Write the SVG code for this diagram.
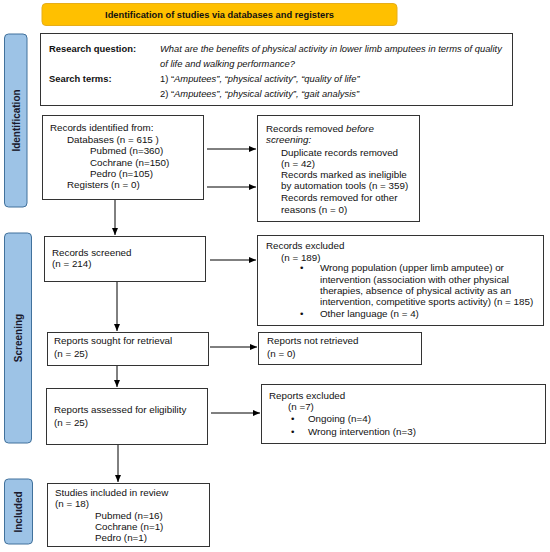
<svg xmlns="http://www.w3.org/2000/svg" width="550" height="552" viewBox="0 0 550 552">
<defs>
<marker id="ah" markerWidth="8" markerHeight="8" refX="7" refY="4" orient="auto" markerUnits="userSpaceOnUse">
<path d="M0,1 L7,4 L0,7 Z" fill="#000"/>
</marker>
<style>
text{font-family:"Liberation Sans",Arial,sans-serif;font-size:9.8px;fill:#111}
.b{font-weight:bold}
.i{font-style:italic}
.r text{font-size:9.4px}
.ban{font-size:9.3px}
.box{fill:#fff;stroke:#333;stroke-width:1}
.side{fill:#9DC3E6;stroke:#41719C;stroke-width:1}
.sl{font-weight:bold;font-size:10px;fill:#1a1a2e}
.c line{stroke:#000;stroke-width:1;marker-end:url(#ah)}
</style>
</defs>
<rect width="550" height="552" fill="#fff"/>
<g id="banner">
<rect x="42" y="3.5" width="355" height="22" rx="4" fill="#FFC000" stroke="#E6AE1A"/>
<text x="219.5" y="18" text-anchor="middle" class="b ban">Identification of studies via databases and registers</text>
</g>
<g id="side-identification">
<rect class="side" x="4.5" y="34" width="22.5" height="173" rx="4"/>
<text class="sl" transform="translate(19.5,120.5) rotate(-90)" text-anchor="middle">Identification</text>
</g>
<g id="side-screening">
<rect class="side" x="4.5" y="233" width="27" height="210" rx="4"/>
<text class="sl" transform="translate(21.5,338) rotate(-90)" text-anchor="middle">Screening</text>
</g>
<g id="side-included">
<rect class="side" x="4.5" y="479" width="28" height="65" rx="4"/>
<text class="sl" transform="translate(22,512) rotate(-90)" text-anchor="middle">Included</text>
</g>
<g id="research" class="r">
<rect class="box" x="40.5" y="33.5" width="472" height="72"/>
<text x="49" y="52" class="b">Research question:</text>
<text x="160" y="52" class="i">What are the benefits of physical activity in lower limb amputees in terms of quality</text>
<text x="160" y="67" class="i">of life and walking performance?</text>
<text x="49" y="82" class="b">Search terms:</text>
<text x="160" y="82">1) “<tspan class="i">Amputees”, “physical activity”, “quality of life”</tspan></text>
<text x="160" y="97">2) “<tspan class="i">Amputees”, “physical activity”, “gait analysis”</tspan></text>
</g>
<g id="identified">
<rect class="box" x="42.5" y="115.5" width="161" height="84"/>
<text x="50" y="131">Records identified from:</text>
<text x="67" y="143">Databases (n = 615 )</text>
<text x="90" y="154">Pubmed (n=360)</text>
<text x="90" y="165.5">Cochrane (n=150)</text>
<text x="90" y="176.5">Pedro (n=105)</text>
<text x="67" y="187.5">Registers (n = 0)</text>
</g>
<g id="removed">
<rect class="box" x="257.5" y="115.5" width="162" height="106"/>
<text x="266" y="132">Records removed <tspan class="i">before</tspan></text>
<text x="266" y="143" class="i">screening:</text>
<text x="281" y="155.5">Duplicate records removed</text>
<text x="281" y="167">(n = 42)</text>
<text x="281" y="178">Records marked as ineligible</text>
<text x="281" y="189">by automation tools (n = 359)</text>
<text x="281" y="200.5">Records removed for other</text>
<text x="281" y="213">reasons (n = 0)</text>
</g>
<g id="screened">
<rect class="box" x="44.5" y="236.5" width="161" height="45"/>
<text x="52" y="256">Records screened</text>
<text x="52" y="267">(n = 214)</text>
</g>
<g id="excluded">
<rect class="box" x="257.5" y="235.5" width="286" height="90"/>
<text x="266" y="249">Records excluded</text>
<text x="281" y="260.5">(n = 189)</text>
<text x="300" y="271">•</text>
<text x="320" y="271">Wrong population (upper limb amputee) or</text>
<text x="320" y="282.5">intervention (association with other physical</text>
<text x="320" y="293.5">therapies, absence of physical activity as an</text>
<text x="320" y="305">intervention, competitive sports activity) (n = 185)</text>
<text x="300" y="317">•</text>
<text x="320" y="317">Other language (n = 4)</text>
</g>
<g id="sought">
<rect class="box" x="47.5" y="332.5" width="161" height="33"/>
<text x="54" y="344">Reports sought for retrieval</text>
<text x="54" y="357">(n = 25)</text>
</g>
<g id="notretrieved">
<rect class="box" x="258.5" y="332.5" width="163" height="32"/>
<text x="267" y="344">Reports not retrieved</text>
<text x="267" y="357">(n = 0)</text>
</g>
<g id="assessed">
<rect class="box" x="46.5" y="388.5" width="161" height="56"/>
<text x="54" y="413">Reports assessed for eligibility</text>
<text x="54" y="426">(n = 25)</text>
</g>
<g id="reportsexcluded">
<rect class="box" x="261.5" y="384.5" width="284" height="59"/>
<text x="269" y="399">Reports excluded</text>
<text x="288" y="410">(n =7)</text>
<text x="291" y="421.5">•</text>
<text x="308" y="421.5">Ongoing (n=4)</text>
<text x="291" y="434.5">•</text>
<text x="308" y="434.5">Wrong intervention (n=3)</text>
</g>
<g id="included">
<rect class="box" x="47.5" y="483.5" width="162" height="63"/>
<text x="55" y="495.5">Studies included in review</text>
<text x="55" y="507">(n = 18)</text>
<text x="95" y="519">Pubmed (n=16)</text>
<text x="95" y="530">Cochrane (n=1)</text>
<text x="95" y="541">Pedro (n=1)</text>
</g>
<g id="connectors" class="c">
<line x1="207" y1="149" x2="256" y2="149"/>
<line x1="207" y1="187" x2="256" y2="187"/>
<line x1="115" y1="200" x2="115" y2="235"/>
<line x1="210" y1="260" x2="256" y2="260"/>
<line x1="117" y1="282" x2="117" y2="331"/>
<line x1="210" y1="347" x2="257" y2="347"/>
<line x1="117" y1="366" x2="117" y2="387"/>
<line x1="211" y1="413" x2="260" y2="413"/>
<line x1="118" y1="445" x2="118" y2="482"/>
</g>
</svg>
